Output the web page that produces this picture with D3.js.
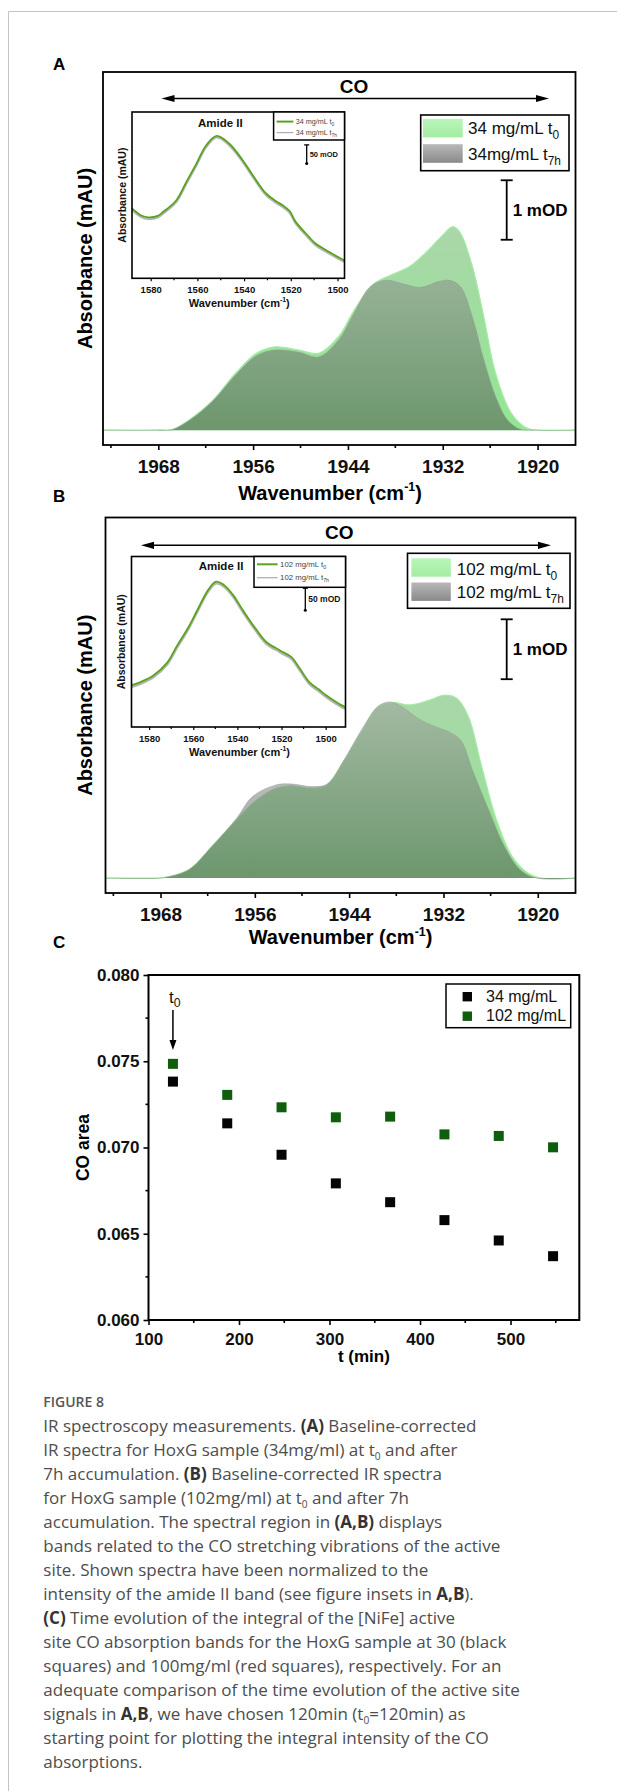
<!DOCTYPE html>
<html><head><meta charset="utf-8">
<script src="https://cdn.jsdelivr.net/npm/d3@7"></script>
<style>body{margin:0;background:#fff}svg{display:block}</style>
</head><body>
<svg id="fig" width="617" height="1791"></svg>
<script>
// ---------------- DATA ----------------
// Panel A main spectra (wavenumber cm-1, absorbance mOD above baseline)
const wavA0 = [1975,1968,1966.2,1964.1,1961.1,1958.2,1955.6,1953.2,1950.2,1947.7,1945.2,1943.2,1940.7,1938.7,1936.2,1934.25,1932.2,1930.7,1929.75,1928.25,1926.8,1925.3,1923.3,1921.3,1919.8,1915.2];
const absA0 = [0,0,0.01,0.17,0.50,0.96,1.29,1.40,1.345,1.29,1.57,2.02,2.46,2.60,2.75,2.97,3.25,3.42,3.31,2.75,1.90,0.95,0.28,0.03,0,0];
const wavA7 = [1975,1968,1966.2,1964.1,1961.1,1958.2,1955.6,1953.2,1950.2,1947.7,1945.2,1943.2,1941.2,1939.2,1937.2,1934.8,1932.7,1931.2,1929.75,1928.25,1926.8,1925.3,1923.8,1922.3,1920.5,1915.2];
const absA7 = [0,0,0.01,0.16,0.49,0.93,1.25,1.345,1.31,1.23,1.51,1.97,2.41,2.52,2.465,2.40,2.49,2.52,2.41,1.90,1.18,0.56,0.17,0.02,0,0];
// Panel B main spectra
const wavB0 = [1975,1968,1967.4,1964.4,1961.4,1958.35,1955.8,1953.3,1951.3,1948.8,1946.8,1944.8,1942.3,1940.3,1938.3,1936.3,1933.8,1931.8,1930.3,1928.8,1927.25,1925.25,1923.25,1921.2,1919.5,1915.2];
const absB0 = [0,0,0.01,0.14,0.53,0.97,1.30,1.50,1.54,1.50,1.555,1.92,2.47,2.86,2.93,2.89,2.97,3.055,3.0,2.69,1.92,0.97,0.36,0.08,0,0];
const wavB7 = [1975,1968,1967.4,1964.4,1961.4,1958.35,1956.3,1953.3,1951.3,1948.8,1946.8,1944.8,1942.3,1940.3,1938.8,1937.3,1935.3,1933.3,1931.3,1929.8,1928.3,1926.25,1924.25,1922.25,1920.2,1915.2];
const absB7 = [0,0,0.01,0.14,0.54,0.99,1.36,1.555,1.57,1.527,1.57,1.94,2.50,2.87,2.94,2.86,2.67,2.54,2.44,2.30,1.80,1.14,0.53,0.14,0,0];
// Insets (amide II band)
const insWavA = [1588,1584,1581,1577,1574.6,1569,1564.7,1560.4,1556.2,1551.7,1546.3,1540.6,1536.3,1530.6,1526,1523.6,1520.5,1517.9,1512.2,1509.4,1503.7,1498,1497];
const insAbsA0 = [187,168,163,167,178,209,258,307,356,381,360,316,276,227,205,196,180,151,111,93,71,51,48];
const insAbsA7 = [183,164,159,163,174,205,254,303,352,377,356,312,272,223,201,192,176,147,107,89,67,47,44];
const insWavB = [1588,1584,1578.1,1572,1567.5,1562,1558.2,1553,1549.6,1546,1542,1537.5,1532,1526.9,1521,1519.4,1515.6,1512,1507.4,1503,1499.8,1494,1491];
const insAbsB0 = [95,102,117,145,183,228,265,313,330,322,300,265,225,193,175,170,159,135,102,85,72,53,45];
const insAbsB7 = [91,98,113,141,179,224,261,309,326,318,296,261,221,189,171,166,155,131,98,81,68,49,41];
// Panel C: CO band area vs time
const timeMin = [127,187,247,307,367,427,487,547];
const coArea34 = [0.07382,0.07140,0.06958,0.06792,0.06683,0.06579,0.06461,0.06370];
const coArea102 = [0.07485,0.07305,0.07233,0.07175,0.07179,0.07076,0.07067,0.07001];
// Ticks
const specTicks = [1968,1956,1944,1932,1920];
const specMinor = [1974,1962,1950,1938,1926];
const insetTicks = [1580,1560,1540,1520,1500];
const insetMinor = [1590,1570,1550,1530,1510,1490];
const cTimeTicks = [100,200,300,400,500];
const cTimeMinor = [150,250,350,450,550];
const cAreaTicks = [0.060,0.065,0.070,0.075,0.080];
const cAreaMinor = [0.0625,0.0675,0.0725,0.0775];
// Labels
const legendA = [[["34 mg/mL t"],["0","s"]],[["34mg/mL t"],["7h","s"]]];
const legendB = [[["102 mg/mL t"],["0","s"]],[["102 mg/mL t"],["7h","s"]]];
const insetLegA = [[["34 mg/mL t"],["0","s"]],[["34 mg/mL t"],["7h","s"]]];
const insetLegB = [[["102 mg/mL t"],["0","s"]],[["102 mg/mL t"],["7h","s"]]];
const legendC = ["34 mg/mL","102 mg/mL"];
const captionLines = [
 [["IR spectroscopy measurements. "],["(A)","b"],[" Baseline-corrected"]],
 [["IR spectra for HoxG sample (34mg/ml) at t"],["0","s"],[" and after"]],
 [["7h accumulation. "],["(B)","b"],[" Baseline-corrected IR spectra"]],
 [["for HoxG sample (102mg/ml) at t"],["0","s"],[" and after 7h"]],
 [["accumulation. The spectral region in "],["(A,B)","b"],[" displays"]],
 [["bands related to the CO stretching vibrations of the active"]],
 [["site. Shown spectra have been normalized to the"]],
 [["intensity of the amide II band (see figure insets in "],["A,B","b"],[")."]],
 [["(C)","b"],[" Time evolution of the integral of the [NiFe] active"]],
 [["site CO absorption bands for the HoxG sample at 30 (black"]],
 [["squares) and 100mg/ml (red squares), respectively. For an"]],
 [["adequate comparison of the time evolution of the active site"]],
 [["signals in "],["A,B","b"],[", we have chosen 120min (t"],["0","s"],["=120min) as"]],
 [["starting point for plotting the integral intensity of the CO"]],
 [["absorptions."]]
];

// ---------------- DRAWING ----------------
const FONT = "'Liberation Sans', Arial, Helvetica, sans-serif";
const CAPFONT = "'Open Sans', 'Noto Sans', sans-serif";
const svg = d3.select("#fig");
const defs = svg.append("defs");
svg.append("rect").attr("width",617).attr("height",1791).attr("fill","#fff");
svg.append("line").attr("x1",8.5).attr("x2",617).attr("y1",11.5).attr("y2",11.5).attr("stroke","#c4c4c4").attr("stroke-width",1);
svg.append("line").attr("x1",8.5).attr("x2",8.5).attr("y1",11.5).attr("y2",1791).attr("stroke","#c4c4c4").attr("stroke-width",1);

function grad(id, y1, y2, c1, c2, box) {
  const g = defs.append("linearGradient").attr("id", id).attr("x1",0).attr("x2",0);
  if (box) g.attr("y1",0).attr("y2",1);
  else g.attr("gradientUnits","userSpaceOnUse").attr("y1",y1).attr("y2",y2);
  g.append("stop").attr("offset",0).attr("stop-color",c1);
  g.append("stop").attr("offset",1).attr("stop-color",c2);
}

function rich(parent, x, y, parts, o) {
  const t = parent.append("text").attr("x",x).attr("y",y)
    .attr("font-family", o.family||FONT).attr("font-size", o.size)
    .attr("font-weight", o.weight||400).attr("fill", o.fill||"#000")
    .attr("text-anchor", o.anchor||"start");
  if (o.transform) t.attr("transform", o.transform);
  let shift = 0;
  parts.forEach(pt => {
    const s = pt[0], k = pt[1]||"";
    const ts = t.append("tspan").text(s);
    let target = 0, fs = null;
    if (k.includes("s")) { target = o.size*0.28; fs = o.size*(o.subScale||0.68); }
    if (k.includes("p")) { target = -o.size*0.42; fs = o.size*0.62; }
    if (target !== shift) { ts.attr("dy", target-shift); shift = target; }
    if (fs) ts.attr("font-size", fs);
    if (k.includes("b")) { ts.attr("font-weight",700); if (o.boldFill) ts.attr("fill", o.boldFill); }
  });
  return t;
}

function arrowHead(g, tipX, tipY, dir, len, hw) {
  let p;
  if (dir==='l') p = [[tipX,tipY],[tipX+len,tipY-hw],[tipX+len,tipY+hw]];
  else if (dir==='r') p = [[tipX,tipY],[tipX-len,tipY-hw],[tipX-len,tipY+hw]];
  else p = [[tipX,tipY],[tipX-hw,tipY-len],[tipX+hw,tipY-len]];
  g.append("path").attr("d", d3.line()(p)+"Z").attr("fill","#000");
}

function bottomAxis(g, x, yPos, major, minor, o) {
  const ax = d3.axisBottom(x).tickValues(major).tickSize(o.tick).tickPadding(o.pad).tickFormat(o.fmt);
  const a = g.append("g").attr("transform",`translate(0,${yPos})`).call(ax);
  a.select(".domain").remove();
  a.attr("font-family", FONT).attr("font-size", o.size).attr("font-weight", 700);
  a.selectAll(".tick line").attr("stroke","#000").attr("stroke-width", o.sw);
  a.selectAll(".tick text").attr("fill","#111");
  const [d0,d1] = x.domain();
  const lo = Math.min(d0,d1), hi = Math.max(d0,d1);
  g.append("g").selectAll("line").data(minor.filter(v=>v>lo&&v<hi)).join("line")
    .attr("x1",d=>x(d)).attr("x2",d=>x(d)).attr("y1",yPos).attr("y2",yPos+o.minorTick)
    .attr("stroke","#000").attr("stroke-width",o.sw);
}

function spectrumPanel(p) {
  const g = svg.append("g");
  const x = d3.scaleLinear().domain([1975,1915.2]).range([p.L,p.R]);
  const y = d3.scaleLinear().domain([-0.25,6.02]).range([p.B,p.T]);
  grad("g0"+p.id, p.gTop, y(0), "#aad6aa", "#92e692");
  grad("g7"+p.id, p.gTop, y(0), "#a2a2a2", "#484848");
  grad("s0"+p.id, 0, 0, "#b9f5b9", "#a3eca3", true);
  grad("s7"+p.id, 0, 0, "#b8b8b8", "#8a8a8a", true);
  const cr = d3.curveCatmullRom.alpha(0.5);
  const area = d3.area().x(d=>x(d[0])).y0(y(0)).y1(d=>y(d[1])).curve(cr);
  const line = d3.line().x(d=>x(d[0])).y(d=>y(d[1])).curve(cr);
  const d0 = d3.zip(p.w0,p.v0), d7 = d3.zip(p.w7,p.v7);
  g.append("path").datum(d0).attr("d",area).attr("fill",`url(#g0${p.id})`);
  g.append("path").datum(d0).attr("d",line).attr("fill","none").attr("stroke","#a6eba6").attr("stroke-width",1.2);
  g.append("path").datum(d7).attr("d",area).attr("fill",`url(#g7${p.id})`).attr("fill-opacity",0.5);
  g.append("path").datum(d7).attr("d",line).attr("fill","none").attr("stroke","#8c9a8c").attr("stroke-width",0.8).attr("stroke-opacity",0.6);
  g.append("rect").attr("x",p.L).attr("y",p.T).attr("width",p.R-p.L).attr("height",p.B-p.T)
    .attr("fill","none").attr("stroke","#000").attr("stroke-width",1.8);
  bottomAxis(g, x, p.B, specTicks, specMinor, {tick:5,minorTick:3,pad:10,size:19,sw:1.6,fmt:d3.format("d")});
  rich(g, p.xlabX, p.xlabY, [["Wavenumber (cm"],["-1","p"],[")"]], {size:20,weight:700,anchor:"middle"});
  rich(g, 0, 0, [["Absorbance (mAU)"]], {size:20,weight:700,anchor:"middle",transform:`translate(${84.6+7.2},${(p.T+p.B)/2}) rotate(-90)`});
  rich(svg, 53, p.letterY, [[p.letter]], {size:17,weight:700});
  g.append("line").attr("x1",p.arL+6).attr("x2",p.arR-6).attr("y1",p.arY).attr("y2",p.arY).attr("stroke","#000").attr("stroke-width",1.5);
  arrowHead(g,p.arL,p.arY,'l',13,3.6); arrowHead(g,p.arR,p.arY,'r',13,3.6);
  rich(g, p.coX, p.coY, [["CO"]], {size:19,weight:700,anchor:"middle"});
  const lg = p.leg;
  g.append("rect").attr("x",lg.x).attr("y",lg.y).attr("width",lg.w).attr("height",lg.h).attr("fill","#fff").attr("stroke","#000").attr("stroke-width",1.6);
  g.append("rect").attr("x",lg.sx).attr("y",lg.sy0).attr("width",lg.sw).attr("height",lg.sh).attr("fill",`url(#s0${p.id})`);
  g.append("rect").attr("x",lg.sx).attr("y",lg.sy1).attr("width",lg.sw).attr("height",lg.sh).attr("fill",`url(#s7${p.id})`);
  rich(g, lg.tx, lg.ty0, p.legText[0], {size:17,fill:"#111",subScale:0.7});
  rich(g, lg.tx, lg.ty1, p.legText[1], {size:17,fill:"#111",subScale:0.7});
  const sbx = p.sbX;
  const yb0 = y(p.sbV), yb1 = y(p.sbV+1);
  g.append("line").attr("x1",sbx).attr("x2",sbx).attr("y1",yb0).attr("y2",yb1).attr("stroke","#000").attr("stroke-width",1.8);
  [yb0,yb1].forEach(yy=>g.append("line").attr("x1",sbx-6).attr("x2",sbx+6).attr("y1",yy).attr("y2",yy).attr("stroke","#000").attr("stroke-width",1.8));
  rich(g, sbx+6, (yb0+yb1)/2+6, [["1 mOD"]], {size:17,weight:700});
  const I = p.ins;
  const xi = d3.scaleLinear().domain(I.dom).range([I.L,I.R]);
  const yi = d3.scaleLinear().domain([0,I.ymax]).range([I.B,I.T]);
  g.append("rect").attr("x",I.L).attr("y",I.T).attr("width",I.R-I.L).attr("height",I.B-I.T).attr("fill","#fff");
  const li = d3.line().x(d=>xi(d[0])).y(d=>yi(d[1])).curve(cr);
  g.append("path").datum(d3.zip(I.w,I.v7)).attr("d",li).attr("fill","none").attr("stroke","#b4b4b4").attr("stroke-width",2.4);
  g.append("path").datum(d3.zip(I.w,I.v0)).attr("d",li).attr("fill","none").attr("stroke","#5aa41c").attr("stroke-width",1.8);
  g.append("rect").attr("x",I.L).attr("y",I.T).attr("width",I.R-I.L).attr("height",I.B-I.T).attr("fill","none").attr("stroke","#000").attr("stroke-width",1.6);
  bottomAxis(g, xi, I.B, insetTicks, insetMinor, {tick:3,minorTick:2,pad:5,size:9.5,sw:1.2,fmt:d3.format("d")});
  rich(g, (I.L+I.R)/2+1, I.B+28.5, [["Wavenumber (cm"],["-1","p"],[")"]], {size:11,weight:700,anchor:"middle",fill:"#111"});
  rich(g, 0, 0, [["Absorbance (mAU)"]], {size:10.5,weight:700,anchor:"middle",fill:"#111",transform:`translate(${I.L-10.3+3.8},${(I.T+I.B)/2}) rotate(-90)`});
  rich(g, I.amX, I.amY, [["Amide II"]], {size:11.5,weight:700,anchor:"middle",fill:"#111"});
  const il = I.leg;
  g.append("rect").attr("x",il.x).attr("y",I.T).attr("width",I.R-il.x).attr("height",il.b-I.T).attr("fill","#fff").attr("stroke","#000").attr("stroke-width",1.5);
  g.append("line").attr("x1",il.x+3).attr("x2",il.lx2).attr("y1",il.y0).attr("y2",il.y0).attr("stroke","#5aa41c").attr("stroke-width",2);
  g.append("line").attr("x1",il.x+3).attr("x2",il.lx2).attr("y1",il.y1).attr("y2",il.y1).attr("stroke","#b0b0b0").attr("stroke-width",1.3);
  rich(g, il.lx2+2.5, il.y0+2.6, I.legText[0], {size:il.fs,fill:"#444"});
  rich(g, il.lx2+2.5, il.y1+2.6, I.legText[1], {size:il.fs,fill:"#444"});
  const ib0 = yi(I.sbV), ib1 = yi(I.sbV+50);
  g.append("line").attr("x1",I.sbX).attr("x2",I.sbX).attr("y1",ib0).attr("y2",ib1).attr("stroke","#000").attr("stroke-width",1.3);
  g.append("line").attr("x1",I.sbX-2.5).attr("x2",I.sbX+2.5).attr("y1",ib1).attr("y2",ib1).attr("stroke","#000").attr("stroke-width",1.3);
  g.append("circle").attr("cx",I.sbX).attr("cy",ib0).attr("r",1.5).attr("fill","#000");
  rich(g, I.sbX+3, (ib0+ib1)/2+3, [["50 mOD"]], {size:I.sbFs,weight:700,fill:"#111"});
}

spectrumPanel({id:"A", letter:"A", letterY:70, L:103, R:575.5, T:72, B:445, gTop:222,
  w0:wavA0, v0:absA0, w7:wavA7, v7:absA7,
  xlabX:330, xlabY:499.5, arL:161.5, arR:549, arY:98.5, coX:354, coY:93.3,
  leg:{x:420.7,y:115,w:148.3,h:55.7,sx:423,sw:39.7,sh:18.6,sy0:118.8,sy1:144.2,tx:468,ty0:134,ty1:160},
  legText:legendA, sbX:506.7, sbV:3.2,
  ins:{L:132,R:344.5,T:112,B:278.3,dom:[1588,1497],ymax:445,w:insWavA,v0:insAbsA0,v7:insAbsA7,
       amX:220.3, amY:127.3, leg:{x:273.6,b:140,lx2:293.3,y0:121.6,y1:132.6,fs:7.2},
       legText:insetLegA, sbX:306.7, sbV:307, sbFs:7.5}
});
spectrumPanel({id:"B", letter:"B", letterY:502, L:105.5, R:575.5, T:517.5, B:893, gTop:690,
  w0:wavB0, v0:absB0, w7:wavB7, v7:absB7,
  xlabX:340.5, xlabY:944, arL:141, arR:551, arY:545.3, coX:339.2, coY:539.3,
  leg:{x:407.5,y:553.3,w:162.5,h:55,sx:411.4,sw:39.4,sh:18.4,sy0:558.3,sy1:582.5,tx:456.7,ty0:575,ty1:598.3},
  legText:legendB, sbX:506.7, sbV:3.32,
  ins:{L:131.5,R:345.5,T:556.5,B:727,dom:[1588,1491],ymax:387,w:insWavB,v0:insAbsB0,v7:insAbsB7,
       amX:221, amY:570, leg:{x:254,b:587.3,lx2:277.6,y0:564.3,y1:577.7,fs:7.8},
       legText:insetLegB, sbX:305.3, sbV:265, sbFs:8.5}
});

// ---------------- Panel C ----------------
(function(){
  const g = svg.append("g");
  const L=148.5, R=579.3, T=975, B=1320;
  const x = d3.scaleLinear().domain([100,576]).range([L,R]);
  const y = d3.scaleLinear().domain([0.060,0.080]).range([B,T]);
  rich(svg, 53, 948, [["C"]], {size:17,weight:700});
  g.selectAll(".p34").data(d3.zip(timeMin,coArea34)).join("rect")
    .attr("x",d=>x(d[0])-5).attr("y",d=>y(d[1])-5).attr("width",10).attr("height",10).attr("fill","#050505");
  g.selectAll(".p102").data(d3.zip(timeMin,coArea102)).join("rect")
    .attr("x",d=>x(d[0])-5).attr("y",d=>y(d[1])-5).attr("width",10).attr("height",10).attr("fill","#0e5e0e");
  g.append("rect").attr("x",L).attr("y",T).attr("width",R-L).attr("height",B-T).attr("fill","none").attr("stroke","#000").attr("stroke-width",2);
  bottomAxis(g, x, B, cTimeTicks, cTimeMinor, {tick:5,minorTick:3,pad:8,size:17,sw:1.6,fmt:d3.format("d")});
  const ay = g.append("g").attr("transform",`translate(${L},0)`)
    .call(d3.axisLeft(y).tickValues(cAreaTicks).tickSize(5).tickPadding(4).tickFormat(d3.format(".3f")));
  ay.select(".domain").remove();
  ay.attr("font-family",FONT).attr("font-size",17).attr("font-weight",700);
  ay.selectAll(".tick line").attr("stroke","#000").attr("stroke-width",1.6);
  ay.selectAll(".tick text").attr("fill","#111");
  g.append("g").selectAll("line").data(cAreaMinor).join("line")
    .attr("x1",L-3).attr("x2",L).attr("y1",d=>y(d)).attr("y2",d=>y(d)).attr("stroke","#000").attr("stroke-width",1.6);
  rich(g, (L+R)/2, 1362, [["t (min)"]], {size:17,weight:700,anchor:"middle"});
  rich(g, 0, 0, [["CO area"]], {size:17.5,weight:700,anchor:"middle",transform:`translate(${83+6},${(T+B)/2}) rotate(-90)`});
  const ax0 = x(timeMin[0]);
  rich(g, ax0-4, 1002.5, [["t"],["0","s"]], {size:17,fill:"#111",subScale:0.72});
  g.append("line").attr("x1",ax0).attr("x2",ax0).attr("y1",1010).attr("y2",1042).attr("stroke","#000").attr("stroke-width",1.5);
  arrowHead(g, ax0, 1050, 'd', 10, 3.5);
  g.append("rect").attr("x",446).attr("y",984).attr("width",124.7).attr("height",43.7).attr("fill","#fff").attr("stroke","#000").attr("stroke-width",1.5);
  const cols = ["#050505","#0e5e0e"];
  legendC.forEach((t,i)=>{
    const cy = 996.7 + i*19.5;
    g.append("rect").attr("x",467.3-4.7).attr("y",cy-4.7).attr("width",9.4).attr("height",9.4).attr("fill",cols[i]);
    rich(g, 486, cy+5.2, [[t]], {size:16,fill:"#111"});
  });
})();

// ---------------- Caption ----------------
rich(svg, 43.3, 1406.7, [["FIGURE 8"]], {size:14,weight:600,fill:"#555",family:CAPFONT});
captionLines.forEach((ln,i)=>{
  rich(svg, 43.3, 1431.7 + i*24, ln, {size:17,fill:"#4d4d4d",boldFill:"#333",family:CAPFONT,subScale:0.6});
});
</script>
</body></html>
